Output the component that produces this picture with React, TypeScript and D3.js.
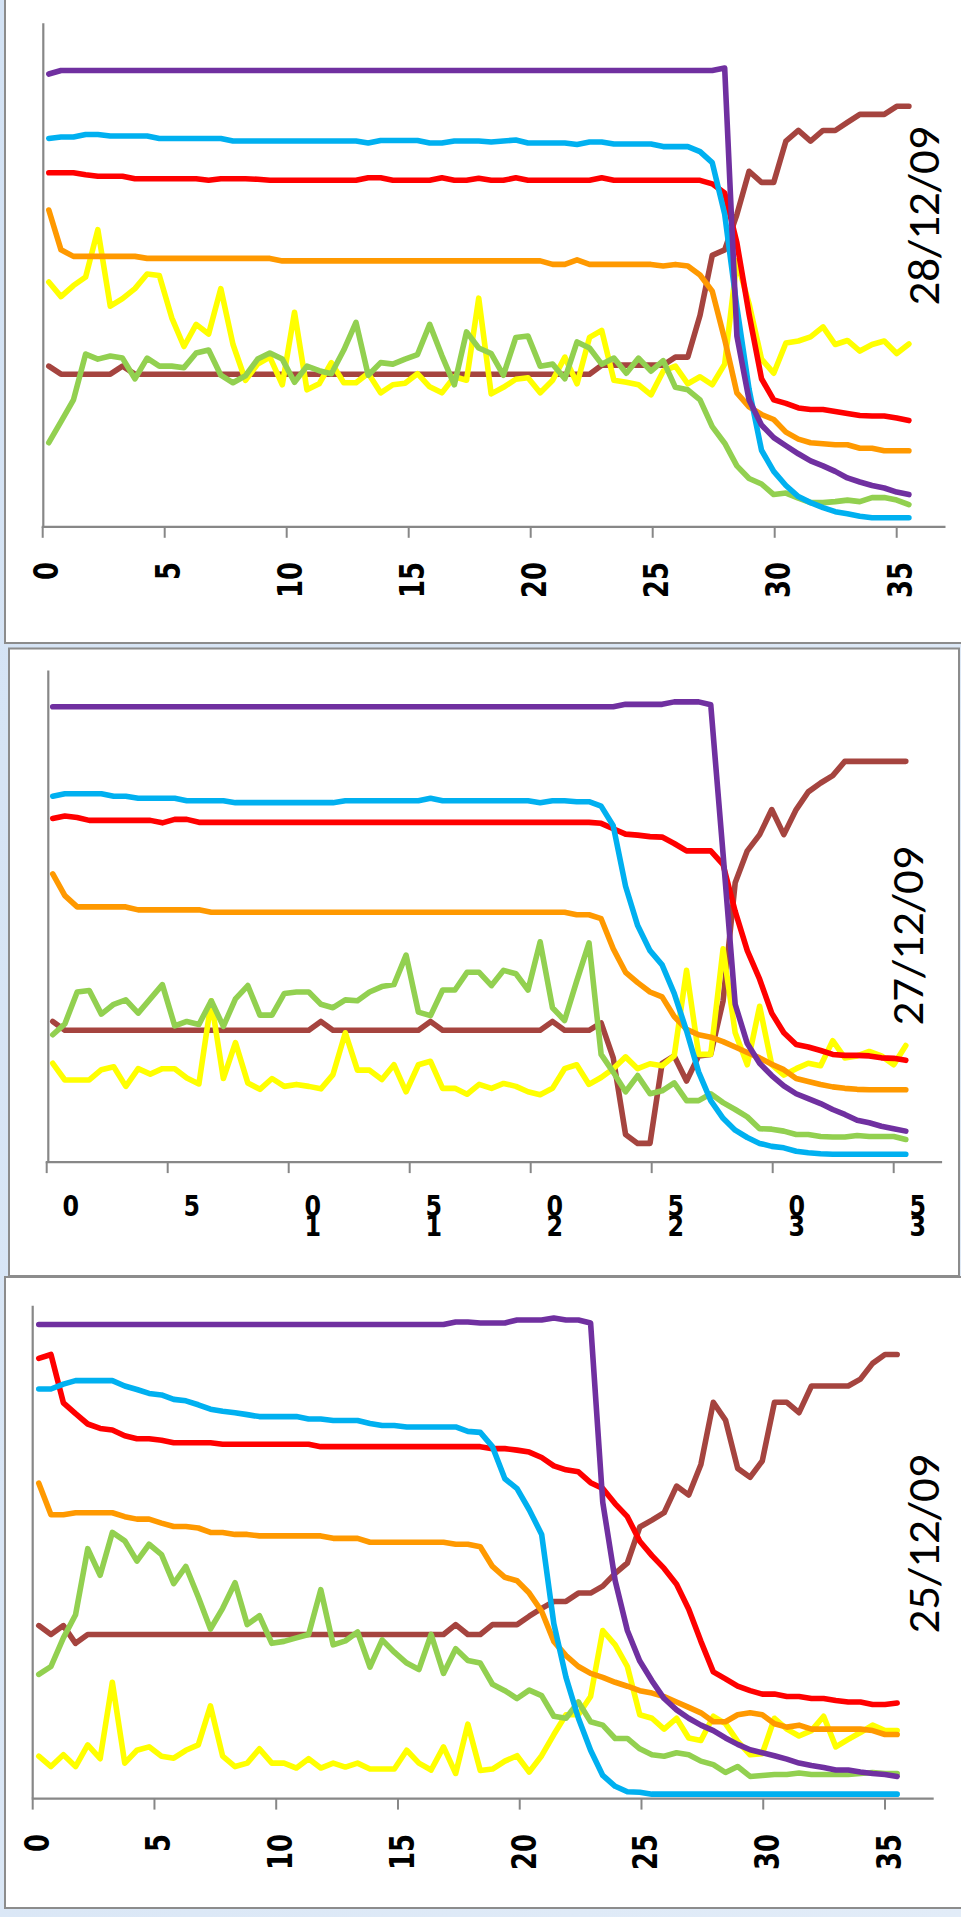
import React from "react";
import * as d3 from "d3";

// Sampling depths shared by every profile (71 readings)
const DEPTH = [
  0.25, 0.75, 1.26, 1.76, 2.26, 2.77, 3.27, 3.78, 4.28, 4.78,
  5.29, 5.79, 6.29, 6.8, 7.3, 7.8, 8.31, 8.81, 9.31, 9.82,
  10.32, 10.83, 11.33, 11.83, 12.34, 12.84, 13.34, 13.85, 14.35, 14.85,
  15.36, 15.86, 16.36, 16.87, 17.37, 17.87, 18.38, 18.88, 19.39, 19.89,
  20.39, 20.9, 21.4, 21.9, 22.41, 22.91, 23.41, 23.92, 24.42, 24.93,
  25.43, 25.93, 26.44, 26.94, 27.44, 27.95, 28.45, 28.95, 29.46, 29.96,
  30.46, 30.97, 31.47, 31.98, 32.48, 32.98, 33.49, 33.99, 34.49, 35.0,
  35.5,
];

const X_TICKS = [0, 5, 10, 15, 20, 25, 30, 35];
const DATES = ["28/12/09", "27/12/09", "25/12/09"];

// ---- 28/12/09 ----
const PURPLE_28 = [
  89.9, 90.6, 90.6, 90.6, 90.6, 90.6, 90.6, 90.6, 90.6, 90.6,
  90.6, 90.6, 90.6, 90.6, 90.6, 90.6, 90.6, 90.6, 90.6, 90.6,
  90.6, 90.6, 90.6, 90.6, 90.6, 90.6, 90.6, 90.6, 90.6, 90.6,
  90.6, 90.6, 90.6, 90.6, 90.6, 90.6, 90.6, 90.6, 90.6, 90.6,
  90.6, 90.6, 90.6, 90.6, 90.6, 90.6, 90.6, 90.6, 90.6, 90.6,
  90.6, 90.6, 90.6, 90.6, 90.6, 91.1, 37.9, 25.2, 20.2, 17.7,
  16.1, 14.5, 13.1, 12.1, 11.0, 9.7, 8.9, 8.2, 7.7, 6.9,
  6.4,
];
const BLUE_28 = [
  77.1, 77.4, 77.4, 77.9, 77.9, 77.6, 77.6, 77.6, 77.6, 77.1,
  77.1, 77.1, 77.1, 77.1, 77.1, 76.6, 76.6, 76.6, 76.6, 76.6,
  76.6, 76.6, 76.6, 76.6, 76.6, 76.6, 76.2, 76.7, 76.7, 76.7,
  76.7, 76.2, 76.2, 76.6, 76.6, 76.6, 76.4, 76.6, 76.8, 76.2,
  76.2, 76.2, 76.2, 75.9, 76.4, 76.4, 76.0, 76.0, 76.0, 76.0,
  75.5, 75.5, 75.5, 74.5, 72.3, 62.1, 43.6, 27.3, 15.2, 11.0,
  8.2, 6.0, 4.8, 3.8, 3.0, 2.6, 2.1, 1.8, 1.8, 1.8,
  1.8,
];
const RED_28 = [
  70.3, 70.3, 70.3, 69.9, 69.6, 69.6, 69.6, 69.1, 69.1, 69.1,
  69.1, 69.1, 69.1, 68.8, 69.1, 69.1, 69.1, 69.0, 68.8, 68.8,
  68.8, 68.8, 68.8, 68.8, 68.8, 68.8, 69.3, 69.3, 68.8, 68.8,
  68.8, 68.8, 69.3, 68.8, 68.8, 69.2, 68.8, 68.8, 69.3, 68.8,
  68.8, 68.8, 68.8, 68.8, 68.8, 69.3, 68.8, 68.8, 68.8, 68.8,
  68.8, 68.8, 68.8, 68.8, 68.1, 66.3, 56.4, 42.2, 29.4, 25.2,
  24.5, 23.6, 23.3, 23.3, 22.9, 22.5, 22.1, 22.0, 22.0, 21.6,
  21.1,
];
const ORANGE_28 = [
  62.9, 55.0, 53.7, 53.7, 53.7, 53.7, 53.7, 53.7, 53.3, 53.3,
  53.3, 53.3, 53.3, 53.3, 53.3, 53.3, 53.3, 53.3, 53.3, 52.8,
  52.8, 52.8, 52.8, 52.8, 52.8, 52.8, 52.8, 52.8, 52.8, 52.8,
  52.8, 52.8, 52.8, 52.8, 52.8, 52.8, 52.8, 52.8, 52.8, 52.8,
  52.8, 52.1, 52.1, 53.0, 52.1, 52.1, 52.1, 52.1, 52.1, 52.1,
  51.8, 52.1, 51.8, 50.0, 46.8, 37.2, 26.6, 23.8, 22.3, 21.3,
  18.8, 17.4, 16.7, 16.5, 16.3, 16.3, 15.6, 15.6, 15.1, 15.1,
  15.1,
];
const YELLOW_28 = [
  48.6, 45.7, 47.9, 49.6, 59.0, 43.8, 45.3, 47.3, 50.2, 49.9,
  41.5, 35.8, 40.2, 38.3, 47.3, 36.2, 29.1, 32.3, 33.7, 28.2,
  42.6, 27.2, 28.4, 32.6, 28.6, 28.6, 30.5, 26.6, 28.2, 28.5,
  30.4, 27.8, 26.6, 29.8, 29.1, 45.4, 26.4, 27.7, 29.3, 29.6,
  26.6, 29.1, 33.7, 28.4, 37.6, 39.0, 29.1, 28.7, 28.2, 26.2,
  30.9, 31.9, 28.4, 29.8, 28.2, 32.3, 52.8, 44.3, 33.3, 30.5,
  36.5, 36.9, 37.7, 39.7, 36.2, 37.0, 34.9, 36.2, 36.9, 34.4,
  36.3,
];
const GREEN_28 = [
  16.7, 20.9, 25.2, 34.3, 33.3, 33.9, 33.5, 29.4, 33.5, 31.9,
  31.9, 31.6, 34.5, 35.1, 30.1, 28.6, 30.0, 33.3, 34.5, 33.3,
  28.7, 31.9, 31.0, 30.4, 35.1, 40.6, 30.1, 32.6, 32.3, 33.3,
  34.2, 40.2, 34.0, 28.2, 38.7, 35.5, 34.4, 30.1, 37.6, 37.9,
  31.9, 32.3, 29.4, 36.7, 35.5, 32.3, 33.5, 30.5, 33.5, 30.9,
  33.0, 27.7, 27.2, 25.2, 19.9, 16.6, 12.1, 9.6, 8.5, 6.4,
  6.7, 5.7, 4.8, 4.8, 5.0, 5.3, 5.0, 5.8, 5.8, 5.3,
  4.4,
];
const BROWN_28 = [
  31.9, 30.3, 30.3, 30.3, 30.3, 30.3, 31.9, 30.3, 30.3, 30.3,
  30.3, 30.3, 30.3, 30.3, 30.3, 30.3, 30.3, 30.3, 30.3, 30.3,
  30.3, 30.3, 30.3, 30.3, 30.3, 30.3, 30.3, 30.3, 30.3, 30.3,
  30.3, 30.3, 30.3, 30.3, 30.3, 30.3, 30.3, 30.3, 30.3, 30.3,
  30.3, 30.3, 30.3, 30.3, 30.3, 32.1, 32.1, 32.1, 32.1, 32.1,
  32.1, 33.7, 33.7, 42.0, 53.9, 55.0, 62.0, 70.6, 68.4, 68.4,
  76.6, 78.7, 76.6, 78.7, 78.7, 80.3, 81.9, 81.9, 81.9, 83.5,
  83.5,
];

// ---- 27/12/09 ----
const PURPLE_27 = [
  92.6, 92.6, 92.6, 92.6, 92.6, 92.6, 92.6, 92.6, 92.6, 92.6,
  92.6, 92.6, 92.6, 92.6, 92.6, 92.6, 92.6, 92.6, 92.6, 92.6,
  92.6, 92.6, 92.6, 92.6, 92.6, 92.6, 92.6, 92.6, 92.6, 92.6,
  92.6, 92.6, 92.6, 92.6, 92.6, 92.6, 92.6, 92.6, 92.6, 92.6,
  92.6, 92.6, 92.6, 92.6, 92.6, 92.6, 92.6, 93.1, 93.1, 93.1,
  93.1, 93.6, 93.6, 93.6, 93.0, 62.6, 32.1, 24.1, 20.1, 17.6,
  15.5, 13.9, 12.9, 11.9, 10.7, 9.7, 8.5, 8.0, 7.3, 6.8,
  6.3,
];
const BLUE_27 = [
  74.4, 74.9, 74.9, 74.9, 74.9, 74.4, 74.4, 74.0, 74.0, 74.0,
  74.0, 73.5, 73.5, 73.5, 73.5, 73.1, 73.1, 73.1, 73.1, 73.1,
  73.1, 73.1, 73.1, 73.1, 73.5, 73.5, 73.5, 73.5, 73.5, 73.5,
  73.5, 74.0, 73.5, 73.5, 73.5, 73.5, 73.5, 73.5, 73.5, 73.5,
  73.1, 73.5, 73.5, 73.3, 73.3, 72.4, 68.4, 56.1, 48.1, 43.0,
  40.1, 34.3, 26.7, 18.3, 12.5, 8.9, 6.5, 5.0, 3.8, 3.2,
  2.9, 2.2, 1.9, 1.7, 1.6, 1.6, 1.6, 1.6, 1.6, 1.6,
  1.6,
];
const RED_27 = [
  69.9, 70.4, 70.1, 69.5, 69.5, 69.5, 69.5, 69.5, 69.5, 69.0,
  69.7, 69.7, 69.1, 69.1, 69.1, 69.1, 69.1, 69.1, 69.1, 69.1,
  69.1, 69.1, 69.1, 69.1, 69.1, 69.1, 69.1, 69.1, 69.1, 69.1,
  69.1, 69.1, 69.1, 69.1, 69.1, 69.1, 69.1, 69.1, 69.1, 69.1,
  69.1, 69.1, 69.1, 69.1, 69.1, 68.9, 67.8, 66.7, 66.5, 66.2,
  66.1, 64.8, 63.3, 63.3, 63.3, 60.5, 51.0, 43.0, 37.2, 30.3,
  26.3, 23.9, 23.4, 22.7, 21.9, 21.7, 21.7, 21.6, 21.2, 21.1,
  20.7,
];
const ORANGE_27 = [
  58.6, 54.2, 51.9, 51.9, 51.9, 51.9, 51.9, 51.3, 51.3, 51.3,
  51.3, 51.3, 51.3, 50.8, 50.8, 50.8, 50.8, 50.8, 50.8, 50.8,
  50.8, 50.8, 50.8, 50.8, 50.8, 50.8, 50.8, 50.8, 50.8, 50.8,
  50.8, 50.8, 50.8, 50.8, 50.8, 50.8, 50.8, 50.8, 50.8, 50.8,
  50.8, 50.8, 50.8, 50.3, 50.3, 49.5, 43.4, 38.6, 36.5, 34.6,
  33.6, 29.6, 27.0, 25.9, 25.4, 24.5, 23.4, 22.3, 21.2, 19.9,
  18.8, 17.0, 16.4, 15.8, 15.3, 15.0, 14.8, 14.7, 14.7, 14.7,
  14.7,
];
const YELLOW_27 = [
  20.1, 16.7, 16.7, 16.7, 18.8, 19.4, 15.4, 19.0, 17.9, 19.0,
  19.0, 17.1, 15.9, 32.8, 17.0, 24.3, 16.1, 14.8, 17.0, 15.4,
  15.8, 15.4, 14.9, 17.8, 26.3, 18.7, 18.7, 16.8, 19.8, 14.3,
  19.8, 20.5, 15.0, 15.0, 13.8, 15.8, 15.0, 16.0, 15.4, 14.3,
  13.7, 15.0, 19.0, 19.8, 15.8, 17.2, 19.0, 21.4, 19.0, 20.0,
  19.6, 21.6, 39.0, 21.9, 21.9, 43.4, 26.3, 19.8, 31.7, 19.8,
  17.7, 19.0, 20.1, 19.6, 24.7, 21.2, 21.6, 22.5, 21.6, 19.8,
  23.7,
];
const GREEN_27 = [
  25.9, 28.1, 34.6, 34.9, 30.1, 32.1, 33.0, 30.3, 33.2, 36.1,
  27.7, 28.6, 28.0, 32.8, 27.6, 33.2, 35.9, 29.9, 29.9, 34.3,
  34.6, 34.6, 32.1, 31.4, 33.0, 32.8, 34.6, 35.7, 36.1, 42.1,
  30.5, 29.8, 35.0, 35.0, 38.6, 38.6, 35.9, 39.0, 38.3, 35.0,
  44.8, 31.4, 28.8, 36.8, 44.6, 21.9, 18.3, 14.3, 17.6, 13.9,
  14.5, 16.1, 12.5, 12.5, 13.9, 12.1, 10.7, 9.2, 6.8, 6.7,
  6.3, 5.6, 5.6, 5.2, 5.1, 5.1, 5.4, 5.2, 5.2, 5.2,
  4.6,
];
const BROWN_27 = [
  28.6, 26.8, 26.8, 26.8, 26.8, 26.8, 26.8, 26.8, 26.8, 26.8,
  26.8, 26.8, 26.8, 26.8, 26.8, 26.8, 26.8, 26.8, 26.8, 26.8,
  26.8, 26.8, 28.6, 26.8, 26.8, 26.8, 26.8, 26.8, 26.8, 26.8,
  26.8, 28.6, 26.8, 26.8, 26.8, 26.8, 26.8, 26.8, 26.8, 26.8,
  26.8, 28.6, 26.8, 26.8, 26.8, 28.3, 21.2, 5.6, 3.8, 3.8,
  20.1, 21.6, 16.5, 21.6, 21.9, 32.8, 56.8, 63.3, 66.6, 71.7,
  66.6, 71.7, 75.3, 77.1, 78.6, 81.5, 81.5, 81.5, 81.5, 81.5,
  81.5,
];

// ---- 25/12/09 ----
const PURPLE_25 = [
  96.2, 96.2, 96.2, 96.2, 96.2, 96.2, 96.2, 96.2, 96.2, 96.2,
  96.2, 96.2, 96.2, 96.2, 96.2, 96.2, 96.2, 96.2, 96.2, 96.2,
  96.2, 96.2, 96.2, 96.2, 96.2, 96.2, 96.2, 96.2, 96.2, 96.2,
  96.2, 96.2, 96.2, 96.2, 96.7, 96.7, 96.5, 96.5, 96.5, 97.1,
  97.1, 97.1, 97.5, 97.1, 97.1, 96.5, 60.1, 44.2, 34.1, 27.9,
  23.9, 20.3, 18.0, 16.3, 14.9, 13.8, 12.3, 11.0, 9.9, 9.3,
  8.7, 8.0, 7.2, 6.7, 6.3, 5.8, 5.8, 5.4, 5.1, 4.9,
  4.5,
];
const BLUE_25 = [
  83.1, 83.1, 84.1, 84.8, 84.8, 84.8, 84.8, 83.7, 83.0, 82.2,
  81.9, 81.0, 80.7, 79.9, 79.0, 78.6, 78.3, 77.9, 77.5, 77.5,
  77.5, 77.5, 77.0, 77.0, 76.7, 76.7, 76.7, 76.1, 75.7, 75.7,
  75.4, 75.4, 75.4, 75.4, 75.4, 74.5, 74.3, 71.4, 64.9, 62.9,
  58.6, 53.6, 35.5, 24.6, 16.3, 9.8, 4.7, 2.5, 1.4, 1.3,
  0.9, 0.9, 0.9, 0.9, 0.9, 0.9, 0.9, 0.9, 0.9, 0.9,
  0.9, 0.9, 0.9, 0.9, 0.9, 0.9, 0.9, 0.9, 0.9, 0.9,
  0.9,
];
const RED_25 = [
  89.3, 90.1, 80.3, 78.1, 76.0, 75.1, 74.8, 73.6, 73.0, 73.0,
  72.7, 72.2, 72.2, 72.2, 72.2, 71.9, 71.9, 71.9, 71.9, 71.9,
  71.9, 71.9, 71.9, 71.4, 71.4, 71.4, 71.4, 71.4, 71.4, 71.4,
  71.4, 71.4, 71.4, 71.4, 71.4, 71.4, 71.4, 71.0, 71.0, 70.7,
  70.3, 69.2, 67.5, 66.7, 66.3, 64.1, 62.9, 59.8, 57.2, 52.2,
  49.3, 46.7, 43.5, 38.4, 31.9, 25.7, 24.3, 22.8, 21.9, 21.2,
  21.2, 20.7, 20.7, 20.3, 20.3, 19.9, 19.6, 19.6, 19.1, 19.1,
  19.4,
];
const ORANGE_25 = [
  64.0, 57.6, 57.6, 58.0, 58.0, 58.0, 58.0, 57.2, 56.7, 56.7,
  55.9, 55.2, 55.2, 54.9, 54.0, 54.0, 53.6, 53.6, 53.3, 53.3,
  53.3, 53.3, 53.3, 53.3, 52.8, 52.8, 52.8, 52.0, 52.0, 52.0,
  52.0, 52.0, 52.0, 52.0, 51.6, 51.6, 51.1, 47.1, 44.9, 44.2,
  41.7, 38.0, 31.9, 29.0, 26.8, 25.4, 24.6, 23.6, 22.8, 21.9,
  21.4, 20.7, 19.6, 18.5, 17.4, 15.6, 15.6, 17.0, 17.4, 17.0,
  15.2, 14.5, 14.9, 14.1, 14.1, 14.1, 14.1, 14.1, 13.8, 13.0,
  13.0,
];
const YELLOW_25 = [
  8.6, 6.5, 8.9, 6.5, 10.9, 8.1, 23.6, 7.2, 9.8, 10.5,
  8.6, 8.2, 9.8, 10.9, 18.8, 8.6, 6.5, 7.2, 10.1, 7.2,
  7.2, 6.2, 8.1, 6.2, 7.2, 6.4, 7.2, 6.0, 6.0, 6.0,
  9.8, 7.2, 5.8, 10.5, 5.1, 15.1, 5.7, 6.0, 7.6, 8.7,
  5.4, 8.7, 13.0, 17.0, 17.0, 20.7, 34.1, 31.2, 26.8, 17.0,
  16.3, 14.1, 16.3, 12.3, 11.8, 16.7, 15.2, 11.6, 8.9, 9.1,
  16.3, 14.1, 12.7, 13.8, 16.7, 10.5, 12.0, 13.4, 14.9, 13.8,
  13.8,
];
const GREEN_25 = [
  25.2, 26.8, 32.6, 37.3, 50.7, 45.3, 54.0, 52.3, 48.2, 51.6,
  49.5, 43.6, 47.1, 40.9, 34.4, 38.6, 43.8, 35.3, 37.1, 31.5,
  31.9, 32.6, 33.3, 42.4, 31.2, 32.0, 33.8, 26.7, 32.2, 29.7,
  27.5, 26.2, 33.3, 25.4, 30.4, 28.0, 27.5, 23.2, 21.9, 20.3,
  22.0, 20.9, 16.7, 16.3, 19.6, 15.6, 14.9, 12.2, 12.2, 10.1,
  8.9, 8.6, 9.3, 8.9, 7.6, 6.9, 5.3, 6.5, 4.5, 4.7,
  4.9, 4.9, 5.2, 4.9, 4.9, 4.9, 4.9, 5.1, 5.3, 5.1,
  5.1,
];
const BROWN_25 = [
  35.1, 33.3, 35.1, 31.5, 33.3, 33.3, 33.3, 33.3, 33.3, 33.3,
  33.3, 33.3, 33.3, 33.3, 33.3, 33.3, 33.3, 33.3, 33.3, 33.3,
  33.3, 33.3, 33.3, 33.3, 33.3, 33.3, 33.3, 33.3, 33.3, 33.3,
  33.3, 33.3, 33.3, 33.3, 35.3, 33.3, 33.3, 35.3, 35.3, 35.3,
  37.0, 38.6, 40.0, 40.0, 41.7, 41.7, 43.1, 45.7, 47.8, 55.1,
  56.5, 58.0, 63.4, 61.6, 67.8, 80.4, 76.8, 67.0, 65.2, 68.5,
  80.4, 80.4, 78.3, 83.7, 83.7, 83.7, 83.7, 85.1, 88.3, 90.1,
  90.1,
];

const COLOR: Record<string, string> = {
  brown: "#A5443F",
  yellow: "#FFFF00",
  green: "#92D050",
  orange: "#FF9900",
  red: "#FF0000",
  blue: "#00B0F0",
  purple: "#7030A0",
};

// drawing order, bottom to top
const ORDER = ["brown", "yellow", "green", "orange", "red", "blue", "purple"];

const PROFILES: Record<string, number[]>[] = [
  { purple: PURPLE_28, blue: BLUE_28, red: RED_28, orange: ORANGE_28, yellow: YELLOW_28, green: GREEN_28, brown: BROWN_28 },
  { purple: PURPLE_27, blue: BLUE_27, red: RED_27, orange: ORANGE_27, yellow: YELLOW_27, green: GREEN_27, brown: BROWN_27 },
  { purple: PURPLE_25, blue: BLUE_25, red: RED_25, orange: ORANGE_25, yellow: YELLOW_25, green: GREEN_25, brown: BROWN_25 },
];

type Layout = {
  box: [number, number, number, number];
  xr: [number, number];
  yr: [number, number];
  axisX: number;
  labels: "rotated" | "stacked";
  labelTop: number;
  labelDx: number;
  date: [number, number];
};

const LAYOUTS: Layout[] = [
  { box: [5, -10, 1010, 653], xr: [42.7, 945.5], yr: [526.8, 23.2], axisX: 43.3, labels: "rotated", labelTop: 562, labelDx: 15.5, date: [939, 216] },
  { box: [9, 648.5, 950, 627.5], xr: [46.7, 942.1], yr: [1162.1, 670.4], axisX: 48.3, labels: "stacked", labelTop: 1216, labelDx: 24, date: [923, 936] },
  { box: [5, 1277, 1010, 631], xr: [32.7, 933.7], yr: [1798.6, 1305.7], axisX: 32.7, labels: "rotated", labelTop: 1834, labelDx: 16, date: [939, 1544] },
];

const AXIS_GREY = "#878787";

function Panel({ layout, profile, date }: { layout: Layout; profile: Record<string, number[]>; date: string }) {
  const x = d3.scaleLinear().domain([0, 37]).range(layout.xr);
  const y = d3.scaleLinear().domain([0, 100]).range(layout.yr);
  const line = d3
    .line<number>()
    .x((_, i) => x(DEPTH[i]))
    .y((v) => y(v));
  const [bx, by, bw, bh] = layout.box;
  const axisY = y(0);

  return (
    <g>
      <rect x={bx} y={by} width={bw} height={bh} fill="#ffffff" stroke="#8c8c8c" strokeWidth={2} />
      {/* value axis */}
      <line x1={layout.axisX} x2={layout.axisX} y1={y(100)} y2={axisY} stroke={AXIS_GREY} strokeWidth={2.2} />
      {/* depth axis */}
      <line x1={x(0) - 1} x2={x(37)} y1={axisY} y2={axisY} stroke={AXIS_GREY} strokeWidth={2.2} />
      {X_TICKS.map((t) => (
        <line key={t} x1={x(t)} x2={x(t)} y1={axisY} y2={axisY + 11} stroke={AXIS_GREY} strokeWidth={2} />
      ))}
      {layout.labels === "rotated"
        ? X_TICKS.map((t) => {
            const s = String(t);
            return (
              <text
                key={t}
                transform={`translate(${x(t) + layout.labelDx},${layout.labelTop}) rotate(-90)`}
                textAnchor="end"
                fontFamily="DejaVu Sans"
                fontWeight="bold"
                fontSize={34}
                textLength={18 * s.length}
                lengthAdjust="spacingAndGlyphs"
                fill="#000"
              >
                {s}
              </text>
            );
          })
        : X_TICKS.map((t) => {
            const s = String(t);
            const cx = x(t) + layout.labelDx;
            return (
              <g key={t} fontFamily="DejaVu Sans" fontWeight="bold" fontSize={28} fill="#000" textAnchor="middle">
                {s.length > 1 && (
                  <text transform={`translate(${cx},${layout.labelTop + 20}) scale(0.85,1)`}>{s[0]}</text>
                )}
                <text transform={`translate(${cx},${layout.labelTop}) scale(0.85,1)`}>{s[s.length - 1]}</text>
              </g>
            );
          })}
      {ORDER.map((k) => (
        <path
          key={k}
          d={line(profile[k]) || ""}
          fill="none"
          stroke={COLOR[k]}
          strokeWidth={5.6}
          strokeLinejoin="round"
          strokeLinecap="round"
        />
      ))}
      <text
        transform={`translate(${layout.date[0]},${layout.date[1]}) rotate(-90)`}
        textAnchor="middle"
        fontFamily="Carlito, Calibri, Lato, sans-serif"
        fontSize={45}
        textLength={179}
        lengthAdjust="spacingAndGlyphs"
        fill="#000"
      >
        {date}
      </text>
    </g>
  );
}

export default function App() {
  return (
    <svg
      width={961}
      height={1917}
      viewBox="0 0 961 1917"
      style={{ position: "absolute", left: 0, top: 0, display: "block" }}
    >
      <defs>
        <linearGradient id="bg" x1="0" y1="0" x2="1" y2="1">
          <stop offset="0" stopColor="#d3e2f4" />
          <stop offset="1" stopColor="#e2ecf8" />
        </linearGradient>
      </defs>
      <rect x={0} y={0} width={961} height={1917} fill="url(#bg)" />
      {LAYOUTS.map((l, i) => (
        <Panel key={i} layout={l} profile={PROFILES[i]} date={DATES[i]} />
      ))}
    </svg>
  );
}
